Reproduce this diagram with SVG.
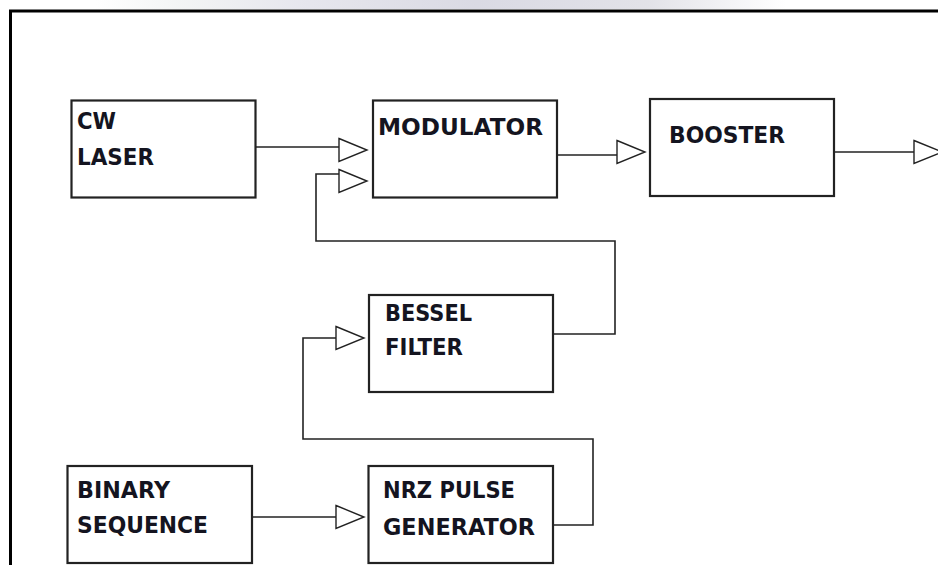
<svg xmlns="http://www.w3.org/2000/svg" xmlns:xlink="http://www.w3.org/1999/xlink" width="938" height="565" viewBox="0 0 938 565">
  <defs>
    <style>
      .box { fill: #ffffff; stroke: #222222; stroke-width: 2.2; }
      .lbl { font-family: "DejaVu Sans", Verdana, "Liberation Sans", sans-serif; font-weight: bold; font-size: 23px; fill: #141420; }
      .wire { fill: none; stroke: #222222; stroke-width: 1.6; }
      .arr { fill: #ffffff; stroke: #222222; stroke-width: 1.4; stroke-linejoin: miter; }
      .frame { fill: none; stroke: #000000; stroke-width: 3; }
    </style>
    <path id="tri" class="arr" d="M0,-11.5 L28,0 L0,11.5 Z"/>
    <linearGradient id="wm" x1="0" y1="0" x2="1" y2="0">
      <stop offset="0" stop-color="#ffffff"/>
      <stop offset="0.12" stop-color="#eef0f0"/>
      <stop offset="0.3" stop-color="#dcdce6"/>
      <stop offset="0.55" stop-color="#cacad8"/>
      <stop offset="0.8" stop-color="#d6d6de"/>
      <stop offset="1" stop-color="#ffffff"/>
    </linearGradient>
  </defs>

  <rect x="0" y="0" width="938" height="565" fill="#ffffff"/>
  <rect x="96" y="0" width="690" height="9" fill="url(#wm)" opacity="0.7"/>

  <path class="frame" d="M10.5,565 L10.5,11 L938,11"/>

  <g id="connectors">
    <path class="wire" d="M256,147 H339"/>
    <use xlink:href="#tri" href="#tri" x="339" y="150"/>
    <path class="wire" d="M553,334 H615 V241 H316 V174 H339"/>
    <use xlink:href="#tri" href="#tri" x="339" y="181"/>
    <path class="wire" d="M557,155 H617"/>
    <use xlink:href="#tri" href="#tri" x="617" y="152"/>
    <path class="wire" d="M834,152 H914"/>
    <use xlink:href="#tri" href="#tri" x="914" y="152"/>
    <path class="wire" d="M553,525 H593 V439 H303 V338 H336"/>
    <use xlink:href="#tri" href="#tri" x="336" y="338"/>
    <path class="wire" d="M252,517 H336"/>
    <use xlink:href="#tri" href="#tri" x="336" y="517"/>
  </g>

  <g id="cw-laser">
    <rect class="box" x="71.5" y="100.5" width="184" height="97"/>
    <text class="lbl" x="77" y="129" textLength="39" lengthAdjust="spacingAndGlyphs">CW</text>
    <text class="lbl" x="77" y="165" textLength="77" lengthAdjust="spacingAndGlyphs">LASER</text>
  </g>

  <g id="modulator">
    <rect class="box" x="373" y="100.5" width="184" height="97"/>
    <text class="lbl" x="378" y="135" textLength="165" lengthAdjust="spacingAndGlyphs">MODULATOR</text>
  </g>

  <g id="booster">
    <rect class="box" x="650" y="99" width="184" height="97"/>
    <text class="lbl" x="669" y="143" textLength="116" lengthAdjust="spacingAndGlyphs">BOOSTER</text>
  </g>

  <g id="bessel-filter">
    <rect class="box" x="369" y="295" width="184" height="97"/>
    <text class="lbl" x="385" y="321" textLength="87" lengthAdjust="spacingAndGlyphs">BESSEL</text>
    <text class="lbl" x="385" y="355" textLength="78" lengthAdjust="spacingAndGlyphs">FILTER</text>
  </g>

  <g id="binary-sequence">
    <rect class="box" x="67.5" y="466" width="184.5" height="97"/>
    <text class="lbl" x="77" y="498" textLength="93" lengthAdjust="spacingAndGlyphs">BINARY</text>
    <text class="lbl" x="77" y="533" textLength="131" lengthAdjust="spacingAndGlyphs">SEQUENCE</text>
  </g>

  <g id="nrz-pulse-generator">
    <rect class="box" x="368.5" y="466" width="184.5" height="97"/>
    <text class="lbl" x="383" y="498" textLength="132" lengthAdjust="spacingAndGlyphs">NRZ PULSE</text>
    <text class="lbl" x="383" y="535" textLength="152" lengthAdjust="spacingAndGlyphs">GENERATOR</text>
  </g>
</svg>
